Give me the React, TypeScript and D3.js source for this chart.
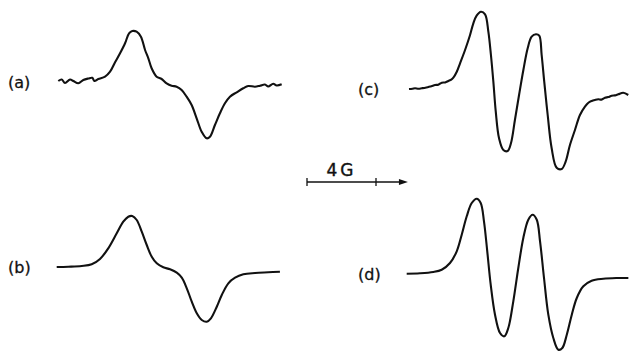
import * as d3 from 'd3'

// field offsets in gauss from the start of each trace, signal in arbitrary units
const A_FIELD = [0, 0.2, 0.39, 0.68, 0.87, 1.16, 1.45, 1.74, 1.97, 2.09, 2.32, 2.71, 3.0, 3.29, 3.58, 3.87, 4.1, 4.29, 4.54, 4.79, 5.03, 5.22, 5.41, 5.7, 5.99, 6.28, 6.57, 6.86, 7.15, 7.44, 7.73, 8.02, 8.31, 8.6, 8.79, 9.08, 9.37, 9.66, 9.95, 10.34, 10.72, 11.01, 11.4, 11.69, 11.98, 12.17, 12.46, 12.66, 12.95]
const A_SIGNAL = [1, 2.5, -1, 2.5, 1, -1.3, 2, 3.5, 4.2, 1, 3, 5.3, 10.3, 19.7, 28.7, 38.7, 48.7, 51, 50.3, 45.3, 32, 23.7, 13.7, 5.3, 3, -1.3, -3.7, -4.7, -8, -14.7, -23, -36.3, -49.7, -56.3, -54.7, -43, -31.3, -21.3, -14.7, -10.3, -6.3, -4, -4.7, -3.7, -2.5, -4.5, -1.8, -3.5, -2.3]

const B_FIELD = [0, 0.67, 1.45, 2.03, 2.51, 2.99, 3.48, 3.86, 4.15, 4.38, 4.64, 4.93, 5.22, 5.51, 5.8, 6.18, 6.57, 6.96, 7.25, 7.54, 7.83, 8.12, 8.41, 8.7, 8.94, 9.28, 9.57, 9.95, 10.34, 10.82, 11.5, 12.27, 12.94]
const B_SIGNAL = [0, 0.3, 1, 2.7, 8, 18.7, 33.7, 45.3, 50.3, 51, 47, 35.3, 22, 10.3, 3.7, -0.3, -2.3, -5.7, -10.7, -21.3, -34.7, -46.3, -53, -54.7, -51.3, -39.7, -28, -16.3, -10.7, -7.3, -6, -5.3, -4.7]

const C_FIELD = [0, 0.2, 0.35, 0.55, 0.74, 0.95, 1.12, 1.3, 1.51, 1.7, 1.9, 2.1, 2.28, 2.45, 2.57, 2.77, 2.96, 3.25, 3.54, 3.73, 3.92, 4.17, 4.41, 4.6, 4.75, 4.89, 5.03, 5.22, 5.47, 5.72, 5.91, 6.14, 6.38, 6.63, 6.88, 7.11, 7.36, 7.55, 7.69, 7.84, 8.04, 8.27, 8.56, 8.85, 9.08, 9.33, 9.62, 9.91, 10.2, 10.4, 10.59, 10.78, 10.97, 11.16, 11.36, 11.55, 11.75, 11.94, 12.13, 12.42, 12.71]
const C_SIGNAL = [0, 0.3, 0.7, 0.2, 0.7, 1.3, 2, 2.8, 4, 4.3, 6.3, 6.6, 8, 9.3, 11.3, 17.3, 25.7, 39, 54, 65.7, 73.3, 77.3, 74.7, 57.3, 34, 7.3, -22.7, -49.3, -61, -62, -54.3, -31, -6, 19, 40.7, 52.3, 54.7, 53.3, 34, 7.3, -26, -59.3, -78.7, -80, -72.7, -56, -41, -26, -17.7, -13.7, -12, -11, -10.3, -10.6, -8.7, -8.1, -6.7, -6.4, -5.3, -3.7, -6]

const D_FIELD = [0, 0.77, 1.54, 2.03, 2.51, 2.9, 3.19, 3.48, 3.77, 4.06, 4.29, 4.48, 4.67, 4.87, 5.12, 5.41, 5.66, 5.89, 6.18, 6.47, 6.76, 7.05, 7.3, 7.54, 7.73, 7.96, 8.21, 8.5, 8.79, 9.02, 9.28, 9.57, 9.86, 10.24, 10.72, 11.4, 12.17, 12.85]
const D_SIGNAL = [0.3, 0.7, 2, 4.3, 11, 22.7, 39.3, 57.7, 71, 75.3, 71, 52.7, 22.7, -10.7, -40.7, -59, -62.3, -54, -27.3, 6, 36, 54.3, 59.3, 54.3, 32.7, -4, -40.7, -64, -75.7, -74, -60.7, -40.7, -24, -12.3, -6.7, -4.7, -4, -4]

const LABELS = ['(a)', '(b)', '(c)', '(d)']
const SCALE_BAR_GAUSS = 4
const ARROW_EXTRA_GAUSS = 1.85

const W = 629
const H = 354
const PX_PER_GAUSS = 17.25
const FONT = '"DejaVu Sans", Verdana, sans-serif'
const INK = '#111'

const PANELS = [
  { label: LABELS[0], field: A_FIELD, signal: A_SIGNAL, left: 58.3, base: 82, labelX: 8 },
  { label: LABELS[1], field: B_FIELD, signal: B_SIGNAL, left: 56.7, base: 267, labelX: 8 },
  { label: LABELS[2], field: C_FIELD, signal: C_SIGNAL, left: 409, base: 89, labelX: 358 },
  { label: LABELS[3], field: D_FIELD, signal: D_SIGNAL, left: 406.7, base: 274, labelX: 358 },
]

function Trace({ p }: { p: (typeof PANELS)[number] }) {
  const x = d3.scaleLinear().domain([0, 1]).range([p.left, p.left + PX_PER_GAUSS])
  const y = d3.scaleLinear().domain([-100, 100]).range([p.base + 100, p.base - 100])
  const pts = p.field.map((f, i) => [f, p.signal[i]] as [number, number])
  const line = d3
    .line<[number, number]>()
    .x((d) => x(d[0]))
    .y((d) => y(d[1]))
    .curve(d3.curveCatmullRom.alpha(0.5))
  return (
    <g>
      <path d={line(pts) ?? ''} fill="none" stroke={INK} strokeWidth={2.1} strokeLinejoin="round" />
      <text
        x={p.labelX}
        y={p.base}
        dy="0.36em"
        fontFamily={FONT}
        fontSize={16}
        fill={INK}
        stroke={INK}
        strokeWidth={0.3}
      >
        {p.label}
      </text>
    </g>
  )
}

export default function App() {
  // scale bar
  const bx = d3.scaleLinear().domain([0, 1]).range([307, 307 + PX_PER_GAUSS])
  const by = 182
  const x0 = bx(0)
  const x1 = bx(SCALE_BAR_GAUSS)
  const x2 = bx(SCALE_BAR_GAUSS + ARROW_EXTRA_GAUSS)
  return (
    <svg
      width={W}
      height={H}
      viewBox={`0 0 ${W} ${H}`}
      style={{ position: 'absolute', left: 0, top: 0, background: '#fff' }}
    >
      <rect width={W} height={H} fill="#fff" />
      {PANELS.map((p) => (
        <Trace key={p.label} p={p} />
      ))}
      <g stroke={INK} strokeWidth={1.3}>
        <line x1={x0} x2={x2 - 6} y1={by} y2={by} />
        <line x1={x0} x2={x0} y1={by - 4} y2={by + 4} />
        <line x1={x1} x2={x1} y1={by - 4} y2={by + 4} />
      </g>
      <path d={`M${x2},${by} L${x2 - 9},${by - 3} L${x2 - 9},${by + 3} Z`} fill={INK} />
      <text
        x={(x0 + x1) / 2}
        y={176}
        textAnchor="middle"
        fontFamily={FONT}
        fontSize={17}
        fill={INK}
        stroke={INK}
        strokeWidth={0.4}
        letterSpacing={3}
      >
        {`${SCALE_BAR_GAUSS}G`}
      </text>
    </svg>
  )
}
